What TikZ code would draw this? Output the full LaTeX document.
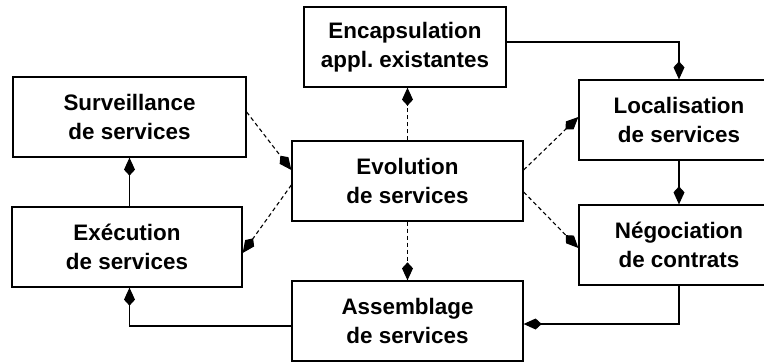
\documentclass[tikz,border=0pt]{standalone}
\usepackage{fontspec}
\setmainfont{Liberation Sans}
\usetikzlibrary{arrows.meta}
\frenchspacing
\begin{document}
\begin{tikzpicture}[x=1pt,y=-1pt,
  box/.style={draw, line width=1.3pt, rectangle, inner sep=0pt, align=center,
    font=\fontsize{22.4}{28.5}\selectfont\bfseries},
  link/.style={line width=1.1pt, -{Kite[length=18pt,width=11pt,inset=6pt]}},
  weak/.style={link, dash pattern=on 4pt off 3pt}]
\clip (0,0) rectangle (764,362);
\fill[white] (0,0) rectangle (764,362);

% boxes
\node[box, minimum width=202pt, minimum height=80pt] (enc) at (405,47) {Encapsulation\\appl.\ existantes};
\node[box, minimum width=233pt, minimum height=80pt] (surv) at (129.5,117) {Surveillance\\de services};
\node[box, minimum width=231pt, minimum height=80pt] (evol) at (407.5,181) {Evolution\\de services};
\node[box, minimum width=200pt, minimum height=80pt] (loc) at (679,120) {Localisation\\de services};
\node[box, minimum width=200pt, minimum height=80pt] (nego) at (679,245) {Négociation\\de contrats};
\node[box, minimum width=230pt, minimum height=80pt] (exec) at (127,247) {Exécution\\de services};
\node[box, minimum width=231pt, minimum height=80pt] (assem) at (407.5,321) {Assemblage\\de services};

% dashed links around the evolution box
\draw[weak] ([yshift=5pt]surv.east) -- ([yshift=11pt]evol.west);
\draw[weak] ([yshift=-4pt]evol.west) -- ([yshift=-6pt]exec.east);
\draw[weak] ([yshift=11pt]evol.east) -- ([yshift=3pt]loc.west);
\draw[weak] ([yshift=-11pt]evol.east) -- ([yshift=-3pt]nego.west);
\draw[weak] (evol.north) -- (evol.north |- enc.south);
\draw[weak] (evol.south) -- (assem.north);

% solid chain
\draw[link] ([yshift=5pt]enc.east) -| (loc.north);
\draw[link] (loc.south) -- (nego.north);
\draw[link] (nego.south) |- ([yshift=-3pt]assem.east);
\draw[link] ([yshift=-5pt]assem.west) -| (surv.south |- exec.south);
\draw[link] (surv.south |- exec.north) -- (surv.south);
\end{tikzpicture}
\end{document}
